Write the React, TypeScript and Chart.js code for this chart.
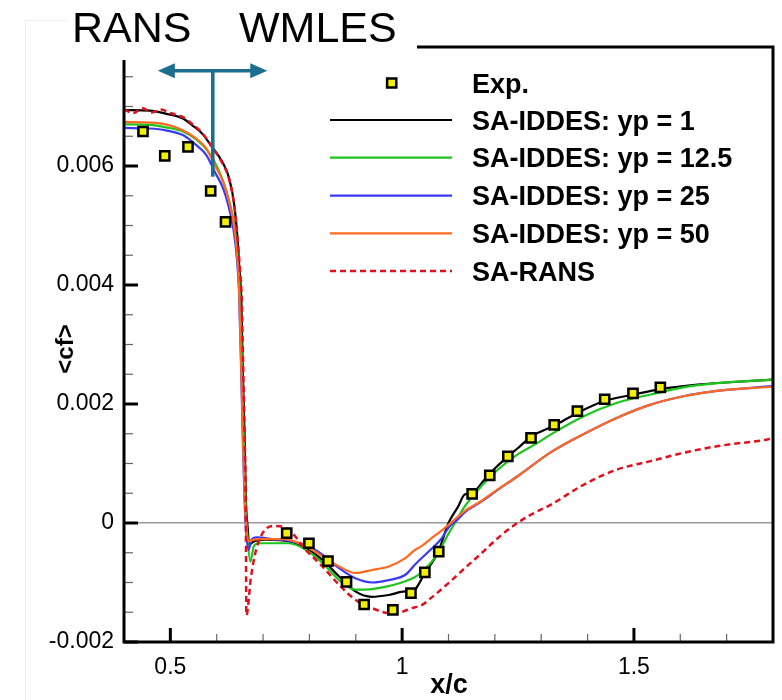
import React, { useEffect, useRef } from "react";
import { Chart, registerables } from "chart.js";

Chart.register(...registerables);

const FONT = "'Liberation Sans', Arial, Helvetica, sans-serif";

// Experimental skin friction
const expX = [0.441, 0.488, 0.538, 0.587, 0.619, 0.751, 0.799, 0.84, 0.88, 0.918, 0.98, 1.019, 1.049, 1.079, 1.151, 1.189, 1.228, 1.278, 1.328, 1.378, 1.437, 1.498, 1.557];
const expCf = [0.00658, 0.00617, 0.00632, 0.00558, 0.00506, -0.00017, -0.00034, -0.00064, -0.00099, -0.00137, -0.00146, -0.00118, -0.00083, -0.00048, 0.00049, 0.0008, 0.00112, 0.00143, 0.00165, 0.00188, 0.00208, 0.00218, 0.00228];

// SA-IDDES, yp = 1
const yp1X = [0.4, 0.456, 0.49, 0.527, 0.548, 0.569, 0.59, 0.612, 0.627, 0.638, 0.645, 0.649, 0.653, 0.656, 0.66, 0.663, 0.667, 0.67, 0.68, 0.706, 0.756, 0.792, 0.828, 0.864, 0.899, 0.935, 0.971, 1.007, 1.021, 1.05, 1.078, 1.1, 1.121, 1.135, 1.15, 1.185, 1.228, 1.25, 1.278, 1.329, 1.378, 1.436, 1.5, 1.557, 1.643, 1.715, 1.8];
const yp1Cf = [0.00694, 0.00693, 0.00688, 0.0068, 0.00668, 0.00654, 0.00632, 0.00607, 0.00579, 0.00534, 0.00477, 0.00427, 0.00376, 0.00264, 0.00152, 0.00039, -0.0001, -0.00036, -0.00031, -0.00028, -0.00031, -0.00042, -0.00062, -0.0009, -0.00115, -0.00124, -0.00121, -0.00115, -0.00115, -0.00083, -0.00048, 0.0, 0.00028, 0.00048, 0.0005, 0.0008, 0.00112, 0.00126, 0.00145, 0.00164, 0.00185, 0.00205, 0.00216, 0.00225, 0.00233, 0.00237, 0.00241];

// SA-IDDES, yp = 12.5
const yp12X = [0.4, 0.456, 0.49, 0.527, 0.555, 0.58, 0.6, 0.615, 0.626, 0.637, 0.644, 0.65, 0.654, 0.658, 0.662, 0.666, 0.6726, 0.68, 0.69, 0.72, 0.756, 0.792, 0.828, 0.864, 0.899, 0.935, 0.971, 1.007, 1.035, 1.064, 1.085, 1.1, 1.114, 1.135, 1.171, 1.207, 1.243, 1.293, 1.321, 1.393, 1.464, 1.536, 1.607, 1.679, 1.8];
const yp12Cf = [0.0067, 0.00669, 0.00665, 0.00658, 0.00645, 0.00626, 0.006, 0.00572, 0.00544, 0.00505, 0.00458, 0.0039, 0.0028, 0.0015, 0.0004, -0.0002, -0.00065, -0.00039, -0.00034, -0.00034, -0.00034, -0.00045, -0.00067, -0.00096, -0.00112, -0.00111, -0.00106, -0.00098, -0.00087, -0.00065, -0.0004, -0.00018, 0.0, 0.00028, 0.00062, 0.0009, 0.00112, 0.00135, 0.00149, 0.0018, 0.00202, 0.00216, 0.00228, 0.00235, 0.00241];

// SA-IDDES, yp = 25
const yp25X = [0.4, 0.456, 0.49, 0.527, 0.556, 0.578, 0.596, 0.614, 0.625, 0.636, 0.643, 0.648, 0.652, 0.656, 0.66, 0.664, 0.669, 0.675, 0.686, 0.72, 0.756, 0.792, 0.828, 0.864, 0.899, 0.935, 0.971, 1.007, 1.03, 1.064, 1.085, 1.1, 1.121, 1.135, 1.171, 1.207, 1.25, 1.321, 1.393, 1.464, 1.536, 1.607, 1.679, 1.8];
const yp25Cf = [0.00664, 0.00663, 0.0066, 0.00652, 0.00635, 0.00618, 0.0059, 0.00562, 0.00534, 0.00494, 0.00449, 0.0039, 0.0028, 0.0015, 0.0004, -0.0002, -0.00045, -0.00028, -0.00024, -0.00027, -0.0003, -0.00037, -0.00053, -0.00076, -0.00093, -0.001, -0.00096, -0.00087, -0.00068, -0.00043, -0.00026, -0.00008, 0.00007, 0.00018, 0.00036, 0.00056, 0.00079, 0.00119, 0.0015, 0.00177, 0.00199, 0.00213, 0.00222, 0.0023];

// SA-IDDES, yp = 50
const yp50X = [0.4, 0.456, 0.49, 0.527, 0.556, 0.578, 0.596, 0.614, 0.625, 0.636, 0.643, 0.648, 0.652, 0.656, 0.66, 0.664, 0.669, 0.68, 0.7, 0.745, 0.792, 0.828, 0.864, 0.899, 0.935, 0.971, 1.007, 1.028, 1.042, 1.064, 1.078, 1.1, 1.135, 1.171, 1.207, 1.25, 1.321, 1.393, 1.464, 1.536, 1.607, 1.679, 1.8];
const yp50Cf = [0.00674, 0.00673, 0.0067, 0.0066, 0.00646, 0.00629, 0.00601, 0.00573, 0.00545, 0.00506, 0.0046, 0.004, 0.0029, 0.0016, 0.0005, -0.0001, -0.00031, -0.00028, -0.00027, -0.00027, -0.00039, -0.00056, -0.00073, -0.00084, -0.00079, -0.00073, -0.00059, -0.00045, -0.00039, -0.00025, -0.00017, -0.00003, 0.0002, 0.00037, 0.00057, 0.00079, 0.00119, 0.0015, 0.00177, 0.00199, 0.00213, 0.00222, 0.00229];

// SA-RANS
const ransX = [0.4, 0.42, 0.44, 0.46, 0.48, 0.5, 0.527, 0.548, 0.569, 0.59, 0.612, 0.627, 0.638, 0.645, 0.65, 0.654, 0.657, 0.66, 0.6625, 0.664, 0.674, 0.685, 0.699, 0.72, 0.742, 0.763, 0.792, 0.828, 0.864, 0.899, 0.935, 0.971, 0.995, 1.021, 1.042, 1.064, 1.1, 1.135, 1.171, 1.207, 1.243, 1.278, 1.321, 1.393, 1.464, 1.536, 1.607, 1.679, 1.786, 1.8];
const ransCf = [0.00695, 0.00689, 0.00697, 0.0069, 0.00695, 0.00689, 0.00682, 0.0067, 0.00655, 0.00632, 0.00605, 0.00577, 0.00532, 0.00477, 0.00427, 0.00376, 0.00264, 0.00152, 0.0004, -0.00155, -0.0009, -0.00045, -0.00017, -0.00005, -0.00006, -0.00017, -0.00045, -0.00073, -0.00104, -0.00129, -0.00143, -0.00151, -0.0015, -0.00143, -0.00138, -0.00125, -0.00101, -0.00076, -0.00051, -0.00025, -0.00003, 0.00014, 0.00031, 0.00065, 0.0009, 0.00104, 0.00118, 0.00129, 0.0014, 0.00142];

const seriesNames = ["Exp.", "SA-IDDES: yp = 1", "SA-IDDES: yp = 12.5", "SA-IDDES: yp = 25", "SA-IDDES: yp = 50", "SA-RANS"];

const xTickValues = [0.5, 1, 1.5];
const yTickValues = [-0.002, 0, 0.002, 0.004, 0.006, 0.008];
const xAxisTitle = "x/c";
const yAxisTitle = "<cf>";
const zoneLabels = ["RANS", "WMLES"];

// RANS / WMLES interface marker (data coordinates)
const interfaceX = 0.5915;
const interfaceTopCf = 0.0076;
const interfaceBottomCf = 0.00582;
const arrowLeftX = 0.473;
const arrowRightX = 0.709;

const COLORS = {
  exp: "#f2f000",
  yp1: "#000000",
  yp12: "#1ec41e",
  yp25: "#3a3af5",
  yp50: "#ff6a20",
  rans: "#e0101e",
  marker: "#1b6e8e",
};

const pairs = (xs: number[], ys: number[]) => xs.map((x, i) => ({ x, y: ys[i] }));

const lineSet = (label: string, xs: number[], ys: number[], color: string, order: number, dash?: number[]) => ({
  label,
  data: pairs(xs, ys),
  showLine: true,
  borderColor: color,
  backgroundColor: color,
  borderWidth: dash ? 2.5 : 2.2,
  borderDash: dash || [],
  pointRadius: 0,
  cubicInterpolationMode: "monotone" as const,
  order,
});

const overlayPlugin = {
  id: "cfOverlay",
  afterDatasetsDraw(chart: any) {
    const { ctx, chartArea: a, scales } = chart;
    const x = scales.x;
    const y = scales.y;
    ctx.save();

    // inward tick marks
    for (let k = 0; k <= 20; k++) {
      const v = -0.002 + k * 0.0005;
      const py = y.getPixelForValue(v);
      const major = k % 4 === 0;
      ctx.lineWidth = major ? 3 : 1.2;
      ctx.strokeStyle = major ? "#000" : "#666";
      ctx.beginPath();
      ctx.moveTo(a.left, py);
      ctx.lineTo(a.left + (major ? 14 : 9), py);
      ctx.stroke();
    }
    for (let k = 0; k <= 14; k++) {
      const v = 0.4 + k * 0.1;
      const px = x.getPixelForValue(v);
      const major = k % 5 === 1;
      ctx.lineWidth = major ? 3 : 1.2;
      ctx.strokeStyle = major ? "#000" : "#666";
      ctx.beginPath();
      ctx.moveTo(px, a.bottom);
      ctx.lineTo(px, a.bottom - (major ? 14 : 8));
      ctx.stroke();
    }

    // frame
    ctx.strokeStyle = "#000";
    ctx.lineWidth = 3;
    ctx.strokeRect(a.left, a.top, a.right - a.left, a.bottom - a.top);

    // RANS / WMLES interface marker
    const ix = x.getPixelForValue(interfaceX);
    const iy0 = y.getPixelForValue(interfaceTopCf);
    const iy1 = y.getPixelForValue(interfaceBottomCf);
    const ax0 = x.getPixelForValue(arrowLeftX);
    const ax1 = x.getPixelForValue(arrowRightX);
    const head = 17;
    const half = 7.5;
    ctx.strokeStyle = COLORS.marker;
    ctx.fillStyle = COLORS.marker;
    ctx.lineWidth = 3.5;
    ctx.beginPath();
    ctx.moveTo(ax0 + head - 2, iy0);
    ctx.lineTo(ax1 - head + 2, iy0);
    ctx.stroke();
    ctx.lineWidth = 3.6;
    ctx.beginPath();
    ctx.moveTo(ix, iy0);
    ctx.lineTo(ix, iy1);
    ctx.stroke();
    ctx.beginPath();
    ctx.moveTo(ax0, iy0);
    ctx.lineTo(ax0 + head, iy0 - half);
    ctx.lineTo(ax0 + head, iy0 + half);
    ctx.closePath();
    ctx.fill();
    ctx.beginPath();
    ctx.moveTo(ax1, iy0);
    ctx.lineTo(ax1 - head, iy0 - half);
    ctx.lineTo(ax1 - head, iy0 + half);
    ctx.closePath();
    ctx.fill();

    ctx.restore();
  },
  afterDraw(chart: any) {
    const { ctx, data } = chart;
    ctx.save();

    // header strip with zone labels
    ctx.fillStyle = "#fff";
    ctx.fillRect(0, 0, 417, 60);
    ctx.strokeStyle = "#eeeeee";
    ctx.lineWidth = 1;
    ctx.beginPath();
    ctx.moveTo(25.5, 700);
    ctx.lineTo(25.5, 20.5);
    ctx.lineTo(68, 20.5);
    ctx.stroke();

    ctx.fillStyle = "#000";
    ctx.font = `43px ${FONT}`;
    ctx.textBaseline = "alphabetic";
    ctx.textAlign = "left";
    ctx.fillText(zoneLabels[0], 72, 42);
    ctx.fillText(zoneLabels[1], 239, 42);

    // axis titles
    ctx.font = `bold 27px ${FONT}`;
    ctx.textAlign = "center";
    ctx.fillText(xAxisTitle, 449, 693);
    ctx.save();
    ctx.translate(73, 349);
    ctx.rotate(-Math.PI / 2);
    ctx.font = `bold 24px ${FONT}`;
    ctx.fillText(yAxisTitle, 0, 0);
    ctx.restore();

    // legend
    const ds = data.datasets;
    ctx.textAlign = "left";
    ctx.font = `bold 27px ${FONT}`;
    const rowY = [83, 120, 157.7, 195.7, 233.3, 271];
    const textX = 472;
    ds.forEach((d: any, i: number) => {
      const yy = rowY[i];
      if (i === 0) {
        const s = 2 * Math.SQRT1_2 * d.pointRadius;
        ctx.fillStyle = d.pointBackgroundColor;
        ctx.strokeStyle = d.pointBorderColor;
        ctx.lineWidth = d.pointBorderWidth;
        ctx.beginPath();
        ctx.rect(391.7 - s / 2, yy - s / 2, s, s);
        ctx.fill();
        ctx.stroke();
      } else {
        ctx.strokeStyle = d.borderColor;
        ctx.lineWidth = d.borderWidth;
        ctx.setLineDash(d.borderDash || []);
        ctx.beginPath();
        ctx.moveTo(330, yy);
        ctx.lineTo(452, yy);
        ctx.stroke();
        ctx.setLineDash([]);
      }
      ctx.fillStyle = "#000";
      ctx.fillText(d.label, textX, yy + 9.5);
    });

    ctx.restore();
  },
};

export default function App() {
  const canvasRef = useRef<HTMLCanvasElement | null>(null);

  useEffect(() => {
    if (!canvasRef.current) return;
    const chart = new Chart(canvasRef.current, {
      type: "scatter",
      data: {
        datasets: [
          {
            label: seriesNames[0],
            data: pairs(expX, expCf),
            showLine: false,
            pointStyle: "rect",
            pointRadius: 6.5,
            pointBackgroundColor: COLORS.exp,
            pointBorderColor: "#000",
            pointBorderWidth: 2.5,
            order: 1,
          } as any,
          lineSet(seriesNames[1], yp1X, yp1Cf, COLORS.yp1, 6),
          lineSet(seriesNames[2], yp12X, yp12Cf, COLORS.yp12, 5),
          lineSet(seriesNames[3], yp25X, yp25Cf, COLORS.yp25, 4),
          lineSet(seriesNames[4], yp50X, yp50Cf, COLORS.yp50, 3),
          lineSet(seriesNames[5], ransX, ransCf, COLORS.rans, 2, [6, 4]),
        ],
      },
      options: {
        animation: false,
        responsive: false,
        devicePixelRatio: 1,
        events: [],
        layout: { padding: { top: 47, right: 7, left: 0, bottom: 0 } },
        plugins: {
          legend: { display: false },
          tooltip: { enabled: false },
          title: { display: false },
        },
        scales: {
          x: {
            type: "linear",
            min: 0.4,
            max: 1.8,
            afterBuildTicks: (s: any) => {
              s.ticks = xTickValues.map((v) => ({ value: v }));
            },
            afterFit: (s: any) => {
              s.height = 58;
            },
            ticks: {
              font: { size: 23, family: FONT },
              color: "#000",
              padding: 4,
              autoSkip: false,
              maxRotation: 0,
              callback: (v: any) => String(v),
            },
            grid: { display: false },
            border: { display: false },
          },
          y: {
            type: "linear",
            min: -0.002,
            max: 0.008,
            afterBuildTicks: (s: any) => {
              s.ticks = yTickValues.map((v) => ({ value: v }));
            },
            afterFit: (s: any) => {
              s.width = 124;
            },
            ticks: {
              font: { size: 23, family: FONT },
              color: "#000",
              padding: 10,
              callback: (v: any) => (Number(v) === 0 ? "0" : Number(v).toFixed(3)),
            },
            grid: {
              drawTicks: false,
              lineWidth: 1.5,
              color: (c: any) => (c.tick && c.tick.value === 0 ? "#9a9a9a" : "rgba(0,0,0,0)"),
            },
            border: { display: false },
          },
        },
      },
      plugins: [overlayPlugin],
    });
    return () => chart.destroy();
  }, []);

  return (
    <div style={{ position: "fixed", left: 0, top: 0, width: 782, height: 700, background: "#fff" }}>
      <canvas ref={canvasRef} width={782} height={700} style={{ display: "block" }} />
    </div>
  );
}
